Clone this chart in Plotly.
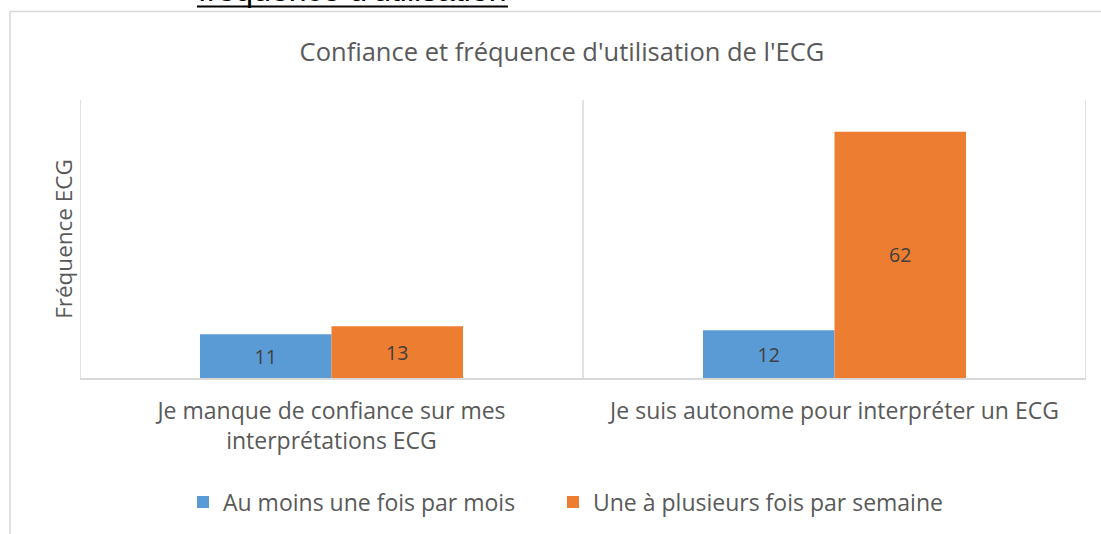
import plotly.graph_objects as go

categories = ["Je manque de confiance sur mes<br>interprétations ECG",
              "Je suis autonome pour interpréter un ECG"]
series_names = ["Au moins une fois par mois", "Une à plusieurs fois par semaine"]
monthly = [11, 12]
weekly = [13, 62]
colors = ["#5B9BD5", "#ED7D31"]

W, H = 1101, 534
# plot area in window pixels: x 80..1086, y 100..378
L, T = 80, 100
R = W - 1086
B = H - 378
pw, ph = W - L - R, H - T - B

def px_x(x):  # window pixel -> paper
    return (x - L) / pw

def px_y(y):
    return 1 - (y - T) / ph

FONT = "Open Sans"
GREY = "#595959"

fig = go.Figure()
legends = ["legend", "legend2"]
for name, vals, col, lg in zip(series_names, [monthly, weekly], colors, legends):
    fig.add_trace(go.Bar(
        x=list(range(len(categories))), y=vals, name=name, legend=lg,
        showlegend=True,
        marker=dict(color=col, line=dict(width=0)),
        text=[str(v) for v in vals], textposition="inside",
        insidetextanchor="middle",
        textfont=dict(family=FONT, size=19.5, color="#404040"),
    ))

shapes = []
# outer chart frame
shapes.append(dict(type="rect", xref="paper", yref="paper",
                   x0=px_x(10), x1=px_x(1115), y0=px_y(548), y1=px_y(11.5),
                   line=dict(color="#D9D9D9", width=1.5), fillcolor="rgba(0,0,0,0)",
                   layer="below"))
# category separators
for xv in [-0.5, 0.5, 1.5]:
    shapes.append(dict(type="line", xref="x", yref="paper", x0=xv, x1=xv, y0=0, y1=1,
                       line=dict(color="#D9D9D9", width=1.5), layer="below"))
# underline of the cropped document heading
shapes.append(dict(type="line", xref="paper", yref="paper",
                   x0=px_x(197), x1=px_x(508), y0=px_y(6.5), y1=px_y(6.5),
                   line=dict(color="black", width=2), layer="above"))

legend_style = dict(orientation="h", xanchor="left", yanchor="middle",
                    font=dict(family=FONT, size=23, color=GREY), itemwidth=30,
                    bgcolor="rgba(0,0,0,0)")

fig.update_layout(
    width=W, height=H, showlegend=True,
    margin=dict(l=L, r=R, t=T, b=B, autoexpand=False),
    paper_bgcolor="white", plot_bgcolor="white",
    barmode="group", bargap=0.477, bargroupgap=0,
    font=dict(family=FONT, color=GREY, size=22.5),
    title=dict(text="Confiance et fréquence d'utilisation de l'ECG",
               x=px_x(562), xref="paper", xanchor="center",
               y=1 - 52 / H, yref="container", yanchor="middle",
               font=dict(family=FONT, size=25.5, color=GREY)),
    xaxis=dict(tickmode="array", tickvals=list(range(len(categories))), ticktext=categories,
               range=[-0.5, 1.5], showgrid=False, zeroline=False, automargin=False,
               showline=True, linecolor="#D9D9D9", linewidth=1.5,
               ticks="", ticklabelstandoff=12,
               tickfont=dict(family=FONT, size=23, color=GREY)),
    yaxis=dict(range=[0, 70], showgrid=False, zeroline=False, showticklabels=False,
               showline=False, ticks="", automargin=False,
               title=dict(text="Fréquence ECG", standoff=0,
                          font=dict(family=FONT, size=22.5, color=GREY))),
    legend=dict(x=px_x(183), y=px_y(502), **legend_style),
    legend2=dict(x=px_x(553), y=px_y(502), **legend_style),
    shapes=shapes,
    annotations=[dict(text="fréquence d'utilisation", xref="paper", yref="paper",
                      x=px_x(352), y=px_y(10), xanchor="center", yanchor="bottom",
                      showarrow=False,
                      font=dict(family="Liberation Sans", size=32, color="black"))],
)

fig.write_html("out.html", config={"displayModeBar": False},
               post_script="document.body.style.margin='0px';document.body.style.overflow='hidden';")
